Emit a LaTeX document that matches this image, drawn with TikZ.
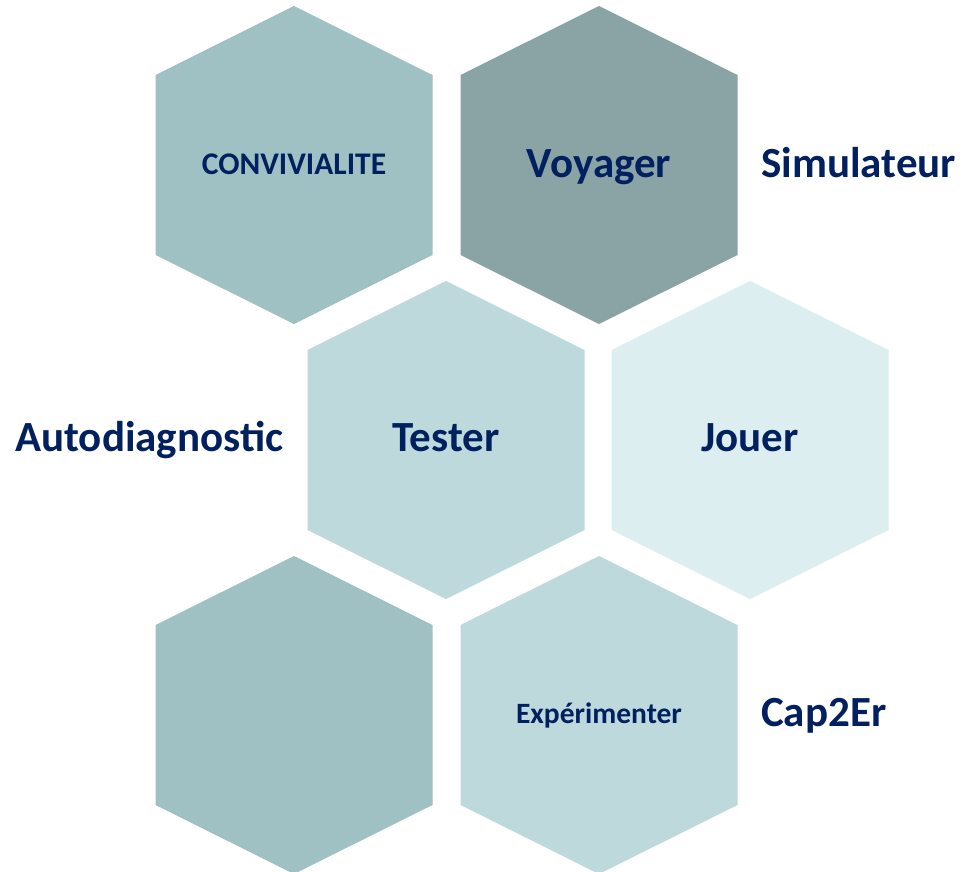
\documentclass[tikz,border=0pt]{standalone}
\usepackage{fontspec}
\setmainfont{Carlito}
\definecolor{navy}{HTML}{002060}
\definecolor{hexA}{HTML}{A0C1C3}
\definecolor{hexB}{HTML}{8AA4A6}
\definecolor{hexC}{HTML}{BED9DC}
\definecolor{hexD}{HTML}{DCEEF0}
\newcommand\hexshape[3]{\fill[#3] (#1,#2) ++(0,-159) -- ++(138.5,69) -- ++(0,180) -- ++(-138.5,69) -- ++(-138.5,-69) -- ++(0,-180) -- cycle;}
\tikzset{
  big/.style={font=\fontsize{43}{48}\selectfont\bfseries, text=navy, inner sep=0pt, anchor=base},
  small/.style={font=\fontsize{31.5}{36}\selectfont\bfseries, text=navy, inner sep=0pt, anchor=base},
  tiny/.style={font=\fontsize{29.5}{34}\selectfont\bfseries, text=navy, inner sep=0pt, anchor=base},
}
\begin{document}
\begin{tikzpicture}[x=1pt,y=-1pt]
\useasboundingbox (0,0) rectangle (969,872);
\fill[white] (0,0) rectangle (969,872);
\hexshape{294}{165}{hexA}
\hexshape{599}{165}{hexB}
\hexshape{446}{440}{hexC}
\hexshape{750}{440}{hexD}
\hexshape{294}{715}{hexA}
\hexshape{599}{715}{hexC}
\node[small] (conv) at (294,174) {CONVIVIALITE};
\node[big] (voy) at (599,177) {Voyager};
\node[big, anchor=base west] (sim) at (761,177) {Simulateur};
\node[big, anchor=base west] (auto) at (15,451) {Autodiagnostic};
\node[big] (test) at (446,451) {Tester};
\node[big] (jou) at (750,451) {Jouer};
\node[tiny] (exp) at (599,723) {Expérimenter};
\node[big, anchor=base west] (cap) at (761,726) {Cap2Er};
\end{tikzpicture}
\end{document}
